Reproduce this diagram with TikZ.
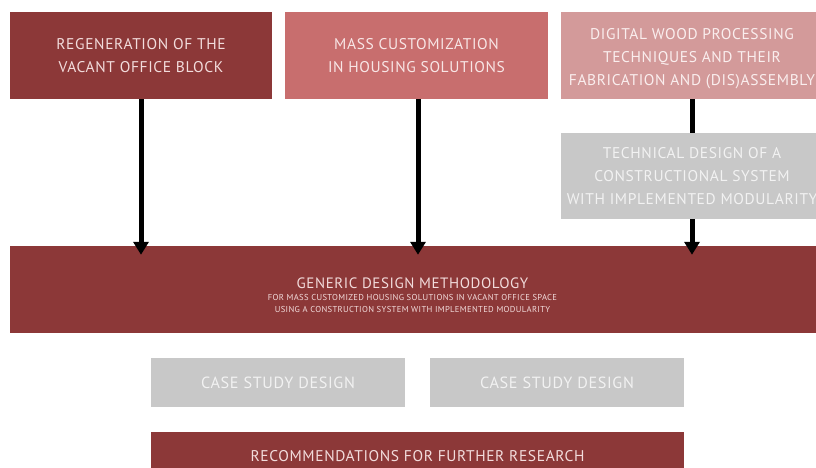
\documentclass[tikz,border=0pt]{standalone}
\usepackage{fontspec}
\setmainfont{PT Sans}[LetterSpace=4]
\usetikzlibrary{arrows.meta,calc}
\definecolor{redA}{HTML}{8C3838}
\definecolor{redB}{HTML}{C86E6E}
\definecolor{redC}{HTML}{D39A9A}
\definecolor{greyD}{HTML}{C8C8C8}
\definecolor{txtA}{HTML}{F2DCDC}
\definecolor{txtB}{HTML}{F8E6E6}
\definecolor{txtC}{HTML}{FAEEEE}
\definecolor{txtD}{HTML}{F2F2F2}
\begin{document}
\begin{tikzpicture}[x=1pt,y=-1pt,
  box/.style={rectangle,inner sep=0pt,align=center,font=\fontsize{15.5}{23}\selectfont},
  label/.style={inner sep=0pt,align=center},
  flow/.style={line width=5pt,-{Triangle[width=15pt,length=13pt]}},
  link/.style={line width=5pt}]
\useasboundingbox (0,0) rectangle (816,467);
% top row
\node[box,fill=redA,text=txtA,minimum width=262pt,minimum height=87pt] (regen) at (141,55.5)
  {REGENERATION OF THE\\VACANT OFFICE BLOCK};
\node[box,fill=redB,text=txtB,minimum width=263pt,minimum height=87pt] (mass) at (416.5,55.5)
  {MASS CUSTOMIZATION\\IN HOUSING SOLUTIONS};
\node[box,fill=redC,minimum width=262pt,minimum height=87pt] (wood) at (692,55.5) {};
\node[box,text=txtC] (woodtext) at (692,58.5)
  {DIGITAL WOOD PROCESSING\\TECHNIQUES AND THEIR\\FABRICATION AND (DIS)ASSEMBLY};
\node[box,fill=greyD,text=txtD,minimum width=262pt,minimum height=86pt] (tech) at (692,176)
  {TECHNICAL DESIGN OF A\\CONSTRUCTIONAL SYSTEM\\WITH IMPLEMENTED MODULARITY};
% methodology
\node[rectangle,inner sep=0pt,fill=redA,minimum width=806pt,minimum height=87pt] (method) at (413,289.5) {};
\node[label,text=txtA,font=\fontsize{15}{18}\selectfont] (mtitle) at (412.5,283)
  {GENERIC DESIGN METHODOLOGY};
\node[label,text=txtA,font=\fontsize{8.6}{12}\selectfont] (msub) at (412.5,303)
  {FOR MASS CUSTOMIZED HOUSING SOLUTIONS IN VACANT OFFICE SPACE\\USING A CONSTRUCTION SYSTEM WITH IMPLEMENTED MODULARITY};
% case studies
\node[box,fill=greyD,text=txtD,minimum width=254pt,minimum height=49pt,font=\fontsize{16.2}{20}\selectfont] (case1) at (278,382.5) {CASE STUDY DESIGN};
\node[box,fill=greyD,text=txtD,minimum width=254pt,minimum height=49pt,font=\fontsize{16.2}{20}\selectfont] (case2) at (557,382.5) {CASE STUDY DESIGN};
% recommendations
\node[box,fill=redA,text=txtA,minimum width=533pt,minimum height=50pt] (recom) at (417.5,457)
  {\raisebox{3pt}{RECOMMENDATIONS FOR FURTHER RESEARCH}};
% connectors
\draw[flow] (regen.south) -- ($(regen.south |- method.north)+(0,9)$);
\draw[flow] ($(mass.south)+(1.5,0)$) -- ($(mass.south |- method.north)+(1.5,9)$);
\draw[link] (wood.south) -- (tech.north);
\draw[flow] (tech.south) -- ($(tech.south |- method.north)+(0,9)$);
\end{tikzpicture}
\end{document}
